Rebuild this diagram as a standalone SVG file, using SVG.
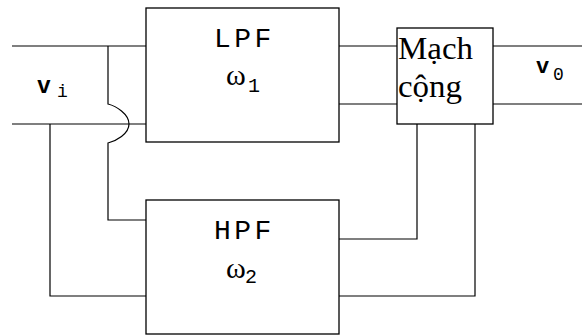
<svg xmlns="http://www.w3.org/2000/svg" width="582" height="336" viewBox="0 0 582 336">
<style>
.box{fill:#fff;stroke:#000;stroke-width:1.3}
.wire{fill:none;stroke:#000;stroke-width:1.2}
.mono{font-family:"Liberation Mono","DejaVu Sans Mono",monospace;fill:#000}
.serif{font-family:"Liberation Serif","Times New Roman",serif;fill:#000}
</style>
<rect width="582" height="336" fill="#fff"/>
<g id="connectors">
<path class="wire" d="M12,46 H146"/>
<path class="wire" d="M12,124 H146"/>
<path class="wire" d="M108,46 V104 C116,106 129,114 129,124 C129,134 116,141 108,143 V220 H146"/>
<path class="wire" d="M50,124 V296 H146"/>
<path class="wire" d="M339,46 H397"/>
<path class="wire" d="M339,104 H397"/>
<path class="wire" d="M493,46 H582"/>
<path class="wire" d="M493,104 H582"/>
<path class="wire" d="M339,239 H417 V124"/>
<path class="wire" d="M339,296 H475 V124"/>
</g>
<g id="lpf">
<rect class="box" x="146" y="8" width="193" height="134"/>
<text class="mono" x="214" y="47" font-size="28" letter-spacing="3.5">LPF</text>
<text class="serif" x="226" y="85" font-size="30">ω</text>
<text class="mono" x="248" y="92" font-size="20">1</text>
</g>
<g id="hpf">
<rect class="box" x="146" y="200" width="193" height="134"/>
<text class="mono" x="214" y="239" font-size="28" letter-spacing="3.5">HPF</text>
<text class="serif" x="226" y="278" font-size="30">ω</text>
<text class="mono" x="245" y="283" font-size="20">2</text>
</g>
<g id="adder">
<rect class="box" x="397" y="28" width="96" height="96"/>
<text class="serif" x="398" y="59" font-size="32" textLength="75" lengthAdjust="spacingAndGlyphs">Mạch</text>
<text class="serif" x="398" y="97" font-size="32" textLength="64" lengthAdjust="spacingAndGlyphs">cộng</text>
</g>
<g id="vi">
<text class="mono" x="37" y="93" font-size="23" font-weight="bold">v</text>
<text class="mono" x="57" y="97" font-size="18">i</text>
</g>
<g id="vo">
<text class="mono" x="536" y="73" font-size="22" font-weight="bold">v</text>
<text class="mono" x="553" y="80" font-size="18">0</text>
</g>
</svg>
